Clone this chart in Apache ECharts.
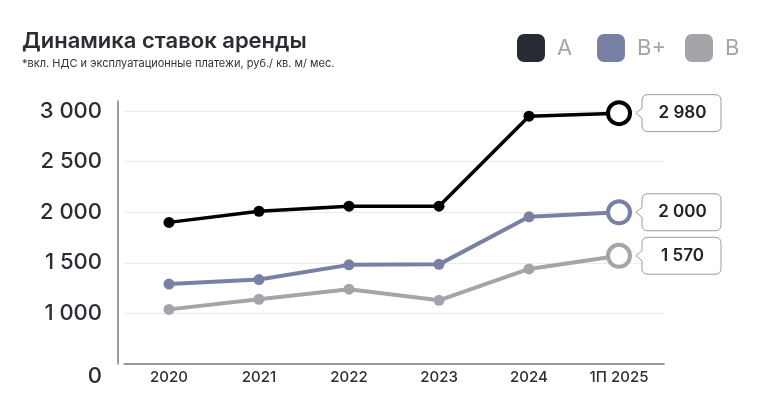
<!DOCTYPE html>
<html>
<head>
<meta charset="utf-8">
<title>Динамика ставок аренды</title>
<script src="https://cdn.jsdelivr.net/npm/echarts@6/dist/echarts.min.js"></script>
<style>
	html,body{margin:0;padding:0;background:#fff;}
	#chart{width:759px;height:400px;}
</style>
</head>
<body>
<div id="chart"></div>
<script>
//1.数据
var categories = ['2020', '2021', '2022', '2023', '2024', '1П 2025'];
var seriesNames = ['A', 'B+', 'B'];
var valuesA = [1900, 2010, 2060, 2060, 2950, 2980];
var valuesBPlus = [1290, 1335, 1480, 1485, 1955, 2000];
var valuesB = [1040, 1140, 1240, 1130, 1440, 1570];
var yMin = 500, yMax = 3100, yStep = 500;

;(function(){
	//2.样式
	var font = 'Inter';
	var colors = {
		A : '#000000',
		BPlus : '#7880a4',
		B : '#a3a5aa',
		legendA : '#272b33',
		text : '#2a2d33',
		axis : '#7a7a7a'
	};

	//3.工具函数
	var util = {
		fmt : function(v){
			return String(v).replace(/\B(?=(\d{3})+(?!\d))/g, ' ');
		},
		// 最后一个点空心大圆
		lineData : function(list, color){
			var last = list.length - 1;
			return list.map(function(v, i){
				if(i !== last) return v;
				return {
					value : v,
					symbolSize : 22,
					itemStyle : {color : '#fff', borderColor : color, borderWidth : 4}
				};
			});
		},
		lineSeries : function(name, list, color, width){
			return {
				name : name,
				type : 'line',
				data : util.lineData(list, color),
				symbol : 'circle',
				symbolSize : 11,
				itemStyle : {color : color},
				lineStyle : {color : color, width : width},
				z : 3
			};
		},
		legend : function(name, color, left){
			return {
				data : [{name : name, itemStyle : {color : color}}],
				left : left,
				top : 34,
				padding : 0,
				icon : 'roundRect',
				itemWidth : 28,
				itemHeight : 28,
				selectedMode : false,
				textStyle : {fontFamily : font, fontSize : 22, color : '#a3a5aa', padding : [0, 0, 0, 7]}
			};
		}
	};

	//4.标注框（左侧带尖角）
	var callout = function(params, api){
		var pt = api.coord([api.value(0), api.value(1)]);
		var w = 79, h = 37, r = 6;
		var x0 = pt[0] + 23, y0 = pt[1] - h / 2, cy = pt[1];
		var x1 = x0 + w, y1 = y0 + h;
		var d = 'M' + (x0 + r) + ' ' + y0 +
			' L' + (x1 - r) + ' ' + y0 + ' Q' + x1 + ' ' + y0 + ' ' + x1 + ' ' + (y0 + r) +
			' L' + x1 + ' ' + (y1 - r) + ' Q' + x1 + ' ' + y1 + ' ' + (x1 - r) + ' ' + y1 +
			' L' + (x0 + r) + ' ' + y1 + ' Q' + x0 + ' ' + y1 + ' ' + x0 + ' ' + (y1 - r) +
			' L' + x0 + ' ' + (cy + 5) + ' L' + (x0 - 6) + ' ' + cy + ' L' + x0 + ' ' + (cy - 5) +
			' L' + x0 + ' ' + (y0 + r) + ' Q' + x0 + ' ' + y0 + ' ' + (x0 + r) + ' ' + y0 + ' Z';
		return {
			type : 'group',
			children : [
				{type : 'path', shape : {pathData : d}, style : {fill : '#fff', stroke : '#9a9a9a', lineWidth : 1}},
				{type : 'text', style : {
					text : util.fmt(api.value(1)),
					x : x0 + w / 2 + 1, y : cy,
					align : 'center', verticalAlign : 'middle',
					font : '600 17px ' + font, fill : '#222'
				}}
			]
		};
	};

	var lastIdx = categories.length - 1;
	var calloutData = [valuesA, valuesBPlus, valuesB].map(function(list){
		return [lastIdx, list[lastIdx]];
	});

	//5.配置项
	var option = {
		animation : false,
		backgroundColor : '#fff',
		title : {
			text : 'Динамика ставок аренды',
			subtext : '*вкл. НДС и эксплуатационные платежи, руб./ кв. м/ мес.',
			left : 22,
			top : 30,
			padding : 0,
			itemGap : 6,
			textStyle : {fontFamily : font, fontSize : 22, fontWeight : 600, color : colors.text},
			subtextStyle : {fontFamily : font, fontSize : 11, color : '#333'}
		},
		legend : [
			util.legend(seriesNames[0], colors.legendA, 517),
			util.legend(seriesNames[1], colors.BPlus, 597),
			util.legend(seriesNames[2], colors.B, 685)
		],
		grid : {left : 124, right : 95, top : 101, bottom : 36},
		xAxis : {
			type : 'category',
			data : categories,
			boundaryGap : true,
			axisLine : {lineStyle : {color : colors.axis, width : 1.5}},
			axisTick : {show : false},
			axisLabel : {fontFamily : font, fontSize : 15, fontWeight : 500, color : colors.text, margin : 6}
		},
		yAxis : {
			type : 'value',
			min : yMin,
			max : yMax,
			interval : yStep,
			offset : 6,
			axisLine : {show : true, lineStyle : {color : colors.axis, width : 1.5}},
			axisTick : {show : false},
			splitLine : {show : true, showMaxLine : false, showMinLine : false, lineStyle : {color : '#ececec', width : 1}},
			axisLabel : {
				showMaxLabel : false,
				margin : 16,
				fontFamily : font,
				fontSize : 22,
				fontWeight : 500,
				color : colors.text,
				formatter : function(v){
					if(v === yMin) return '{z|0}';
					return util.fmt(v);
				},
				rich : {
					z : {fontFamily : font, fontSize : 22, fontWeight : 500, color : colors.text, padding : [24, 0, 0, 0]}
				}
			}
		},
		series : [
			util.lineSeries(seriesNames[2], valuesB, colors.B, 4),
			util.lineSeries(seriesNames[1], valuesBPlus, colors.BPlus, 4),
			util.lineSeries(seriesNames[0], valuesA, colors.A, 3.5),
			{
				type : 'custom',
				renderItem : callout,
				data : calloutData,
				clip : false,
				silent : true,
				z : 5
			}
		]
	};

	//6.渲染
	var myChart = echarts.init(document.getElementById('chart'));
	myChart.setOption(option);
})();
</script>
</body>
</html>
